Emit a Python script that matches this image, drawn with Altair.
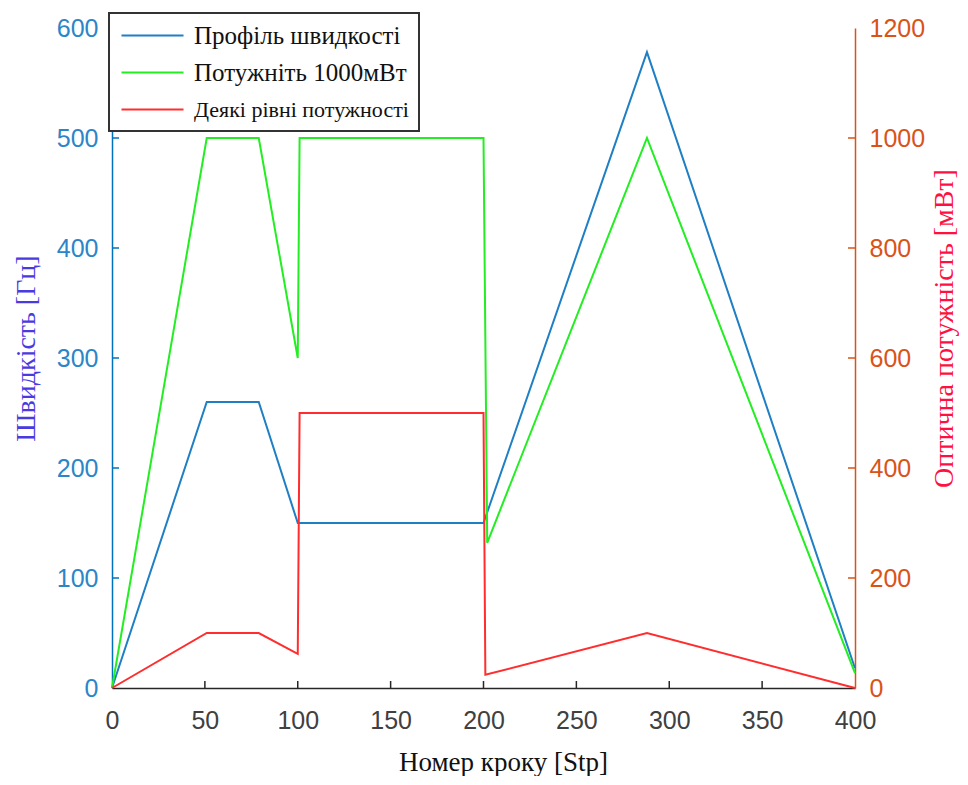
import altair as alt
import pandas as pd

# ---- data ----
speed_x = [0, 51, 79, 100, 200, 288, 400]
speed_hz = [0, 260, 260, 150, 150, 578, 18]

power_x = [0, 51, 79, 100, 101, 200, 202, 288, 400]
power_mw = [0, 1000, 1000, 600, 1000, 1000, 264, 1000, 27]

levels_x = [0, 51, 79, 100, 101, 200, 201, 288, 400]
levels_mw = [0, 100, 100, 62, 500, 500, 24, 100, 0]

series_names = ["Профіль швидкості", "Потужніть 1000мВт", "Деякі рівні потужності"]
series_colors = ["#1f7fc4", "#22ee22", "#ff2d2d"]

x_ticks = [0, 50, 100, 150, 200, 250, 300, 350, 400]
left_ticks = [0, 100, 200, 300, 400, 500, 600]
right_ticks = [0, 200, 400, 600, 800, 1000, 1200]

W, H = 743, 660

# ---- tables ----
speed_df = pd.DataFrame({"x": speed_x, "y": speed_hz, "series": series_names[0],
                         "i": range(len(speed_x))})
power_df = pd.concat([
    pd.DataFrame({"x": power_x, "y": power_mw, "series": series_names[1],
                  "i": range(len(power_x))}),
    pd.DataFrame({"x": levels_x, "y": levels_mw, "series": series_names[2],
                  "i": range(len(levels_x))}),
])
xt_df = pd.DataFrame({"t": x_ticks[1:-1]})
lt_df = pd.DataFrame({"t": left_ticks[1:-1]})
rt_df = pd.DataFrame({"t": right_ticks[1:-1]})

x_scale = alt.Scale(domain=[0, 400], nice=False, zero=False)
yl_scale = alt.Scale(domain=[0, 600], nice=False)
yr_scale = alt.Scale(domain=[0, 1200], nice=False)

x_axis = alt.Axis(
    orient="bottom", values=x_ticks, ticks=False, grid=False, format="d",
    domainColor="#262626", domainWidth=1.5, labelFlush=False,
    labelFont="Liberation Sans", labelFontSize=25, labelColor="#404040", labelPadding=20,
    title="Номер кроку [Stp]", titleFont="Liberation Serif", titleFontSize=27,
    titleFontWeight="normal", titleColor="#111111", titleX=391, titleY=74,
    titleAlign="center", titleBaseline="middle",
)
yl_axis = alt.Axis(
    orient="left", values=left_ticks, ticks=False, grid=False, format="d",
    domainColor="#0072BD", domainWidth=1.5, labelFlush=False,
    labelFont="Liberation Sans", labelFontSize=25, labelColor="#2a86c8", labelPadding=14,
    title="Швидкість [Гц]", titleFont="Liberation Serif", titleFontSize=28,
    titleFontWeight="normal", titleColor="#4a3be0", titleAngle=270,
    titleX=-86, titleY=320, titleAlign="center", titleBaseline="middle",
)
yr_axis = alt.Axis(
    orient="right", values=right_ticks, ticks=False, grid=False, format="d",
    domainColor="#D95319", domainWidth=1.5, labelFlush=False,
    labelFont="Liberation Sans", labelFontSize=25, labelColor="#D95319", labelPadding=14,
    title="Оптична потужність [мВт]", titleFont="Liberation Serif", titleFontSize=28,
    titleFontWeight="normal", titleColor="#ff1040", titleAngle=270,
    titleX=89, titleY=300, titleAlign="center", titleBaseline="middle",
)

legend = alt.Legend(
    orient="none", legendX=-3, legendY=-15, title=None,
    direction="vertical",
    fillColor="white", strokeColor="#333333", padding=10,
    labelFont="Liberation Serif",
    labelFontSize=alt.ExprRef("datum.label == 'Деякі рівні потужності' ? 22 : 25"),
    labelColor="#111111",
    labelLimit=400, labelOffset=50, rowPadding=11,
    symbolType="M-1,0H5.2", symbolSize=400, symbolStrokeWidth=2,
)

color = alt.Color("series:N", scale=alt.Scale(domain=series_names, range=series_colors),
                  legend=legend)

blue_line = alt.Chart(speed_df).mark_line(strokeWidth=2).encode(
    x=alt.X("x:Q", scale=x_scale, axis=x_axis),
    y=alt.Y("y:Q", scale=yl_scale, axis=yl_axis),
    color=color,
    order="i:Q",
)

x_tick_rules = alt.Chart(xt_df).mark_rule(color="#262626", strokeWidth=1.5).encode(
    x=alt.X("t:Q", scale=x_scale, axis=x_axis),
    y=alt.value(H), y2=alt.value(H - 7),
)
left_tick_rules = alt.Chart(lt_df).mark_rule(color="#0072BD", strokeWidth=1.5).encode(
    y=alt.Y("t:Q", scale=yl_scale, axis=yl_axis),
    x=alt.value(0), x2=alt.value(7),
)

power_lines = alt.Chart(power_df).mark_line(strokeWidth=2).encode(
    x=alt.X("x:Q", scale=x_scale, axis=x_axis),
    y=alt.Y("y:Q", scale=yr_scale, axis=yr_axis),
    color=color,
    detail="series:N",
    order="i:Q",
)
right_tick_rules = alt.Chart(rt_df).mark_rule(color="#D95319", strokeWidth=1.5).encode(
    y=alt.Y("t:Q", scale=yr_scale, axis=yr_axis),
    x=alt.value(W), x2=alt.value(W - 7),
)

left_group = alt.layer(x_tick_rules, left_tick_rules, blue_line)
right_group = alt.layer(right_tick_rules, power_lines)

chart = alt.layer(left_group, right_group).resolve_scale(y="independent").properties(
    width=W, height=H,
    autosize=alt.AutoSizeParams(type="none"),
    padding={"left": 104, "top": 20, "right": 105, "bottom": 88},
    background="white",
).configure_view(stroke=None).configure_legend(strokeWidth=2)

chart.save("out.html", embed_options={"renderer": "svg", "actions": False})
